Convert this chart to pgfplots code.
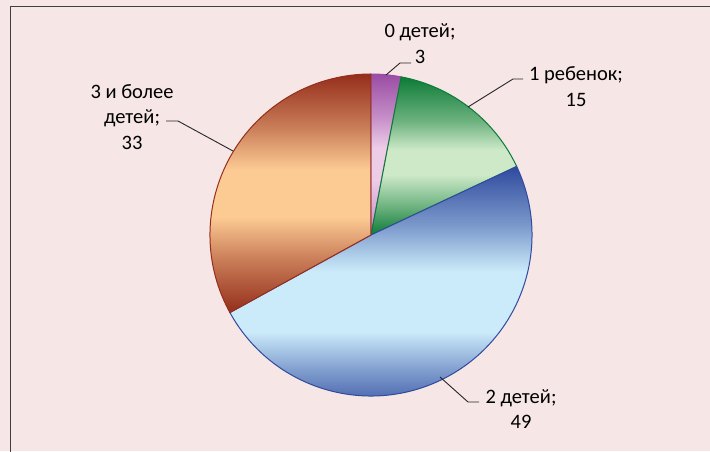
\documentclass[border=0pt]{standalone}
\usepackage{fontspec}
\setmainfont{Carlito}
\usepackage{pgfplots}
\usepackage{pgfplotstable}
\pgfplotsset{compat=1.18}
\usetikzlibrary{calc}

\definecolor{bg}{HTML}{F6E6E6}
\definecolor{framec}{HTML}{3F3F3F}
\definecolor{pinkdk}{HTML}{9A4CA4}
\definecolor{pinklt}{HTML}{EDCCE8}
\definecolor{greendk}{HTML}{0D7B37}
\definecolor{greenlt}{HTML}{CDE9C8}
\definecolor{bluedk}{HTML}{2F4A9E}
\definecolor{bluelt}{HTML}{CBEBFA}
\definecolor{orgdk}{HTML}{952E1B}
\definecolor{orglt}{HTML}{FCCA93}

% slice bbox maps to 25bp (bottom) .. 75bp (top)
\pgfdeclareverticalshading{orgsh}{100bp}{color(0bp)=(orgdk); color(25bp)=(orgdk); color(36bp)=(orgdk!50!orglt); color(45bp)=(orglt); color(55bp)=(orglt); color(64bp)=(orgdk!50!orglt); color(75bp)=(orgdk); color(100bp)=(orgdk)}
\pgfdeclareverticalshading{bluesh}{100bp}{color(0bp)=(bluedk); color(25bp)=(bluedk); color(34bp)=(bluedk!50!bluelt); color(42bp)=(bluelt); color(54bp)=(bluelt); color(63bp)=(bluedk!50!bluelt); color(75bp)=(bluedk); color(100bp)=(bluedk)}
\pgfdeclareverticalshading{greensh}{100bp}{color(0bp)=(greendk); color(25bp)=(greendk); color(34bp)=(greendk!50!greenlt); color(44bp)=(greenlt); color(52bp)=(greenlt); color(61bp)=(greendk!50!greenlt); color(75bp)=(greendk); color(100bp)=(greendk)}
\pgfdeclareverticalshading{pinksh}{100bp}{color(0bp)=(pinkdk!60!pinklt); color(25bp)=(pinkdk!60!pinklt); color(32bp)=(pinkdk!30!pinklt); color(42bp)=(pinklt); color(52bp)=(pinklt); color(62bp)=(pinkdk!50!pinklt); color(75bp)=(pinkdk); color(100bp)=(pinkdk)}

% share of families by number of children, %
\pgfplotstableread{
n value
0 3
1 15
2 49
3 33
}\piedata

\begin{document}
\begin{tikzpicture}[every node/.style={font=\fontsize{20.5}{25.5}\selectfont, align=center, inner sep=0pt}]
\useasboundingbox (0,0) rectangle (710pt,451pt);
\fill[bg] (0,0) rectangle (710pt,451pt);
\draw[framec, line width=1.6pt] (10.5pt,-5pt) -- (10.5pt,444.5pt) -- (720pt,444.5pt);

% slice boundaries, clockwise from 12 o'clock
\pgfplotstablegetelem{0}{value}\of\piedata \pgfmathsetmacro\aA{90-3.6*\pgfplotsretval}
\pgfplotstablegetelem{1}{value}\of\piedata \pgfmathsetmacro\aB{\aA-3.6*\pgfplotsretval}
\pgfplotstablegetelem{2}{value}\of\piedata \pgfmathsetmacro\aC{\aB-3.6*\pgfplotsretval}
\pgfplotstablegetelem{3}{value}\of\piedata \pgfmathsetmacro\aD{\aC-3.6*\pgfplotsretval}

\begin{axis}[at={(0pt,0pt)}, anchor=south west, x=161pt, y=161pt,
    xmin=-2.3043, xmax=2.1056, ymin=-1.3416, ymax=1.4596,
    hide axis, clip=false]
\coordinate (ctr) at (axis cs:0,0);
\coordinate (unit) at (axis cs:1,0);
\end{axis}

\path let \p1=($(unit)-(ctr)$) in \pgfextra{\xdef\rad{\x1}};
\path[shade, shading=pinksh, draw=pinkdk, line width=1pt]
  (ctr) -- ++(90:\rad) arc[start angle=90, end angle=\aA, radius=\rad] -- cycle;
\path[shade, shading=greensh, draw=greendk, line width=1pt]
  (ctr) -- ++(\aA:\rad) arc[start angle=\aA, end angle=\aB, radius=\rad] -- cycle;
\path[shade, shading=bluesh, draw=bluedk, line width=1pt]
  (ctr) -- ++(\aB:\rad) arc[start angle=\aB, end angle=\aC, radius=\rad] -- cycle;
\path[shade, shading=orgsh, draw=orgdk, line width=1pt]
  (ctr) -- ++(\aC:\rad) arc[start angle=\aC, end angle=\aD, radius=\rad] -- cycle;

% data labels with leader lines
\draw[black!85, line width=0.9pt] (386pt,376pt) -- (400pt,388pt) -- (411pt,388pt);
\draw[black!85, line width=0.9pt] (468pt,344pt) -- (513pt,372pt) -- (523pt,372pt);
\draw[black!85, line width=0.9pt] (166pt,330pt) -- (178pt,330pt) -- (233pt,300pt);
\draw[black!85, line width=0.9pt] (440pt,74pt) -- (468pt,49pt) -- (479pt,49pt);
\node at (420pt,407.5pt) {0 детей;\\3};
\node at (576pt,364.5pt) {1 ребенок;\\15};
\node at (132pt,334pt) {3 и более\\детей;\\33};
\node at (521pt,42pt) {2 детей;\\49};
\end{tikzpicture}
\end{document}
